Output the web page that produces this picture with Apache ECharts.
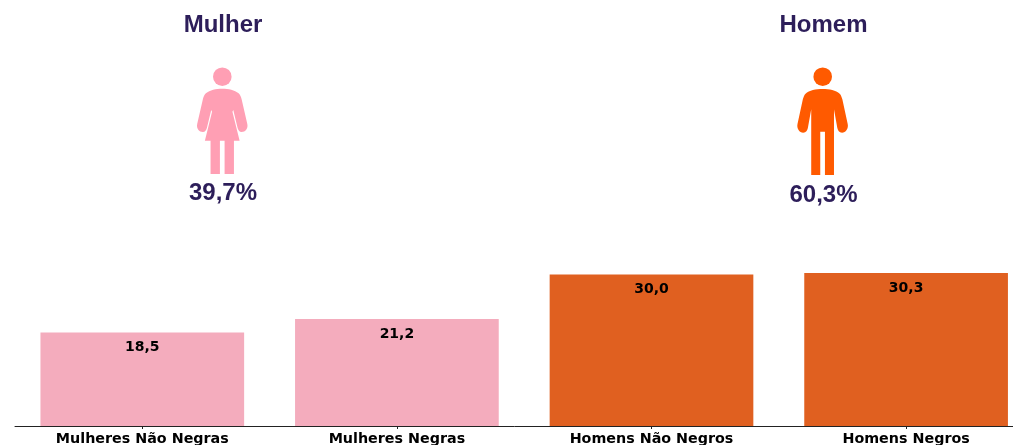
<!DOCTYPE html>
<html>
<head>
<meta charset="utf-8">
<style>
  html, body { margin: 0; padding: 0; background: #fff; overflow: hidden; }
  #chart { width: 1013px; height: 445px; }
</style>
<script src="https://cdn.jsdelivr.net/npm/echarts@6/dist/echarts.min.js"></script>
</head>
<body>
<div id="chart"></div>
<script>
const categories = ['Mulheres Não Negras', 'Mulheres Negras', 'Homens Não Negros', 'Homens Negros'];
const values = [18.5, 21.2, 30.0, 30.3];
const barColors = ['#f4acbd', '#f4acbd', '#e06020', '#e06020'];
const groupNames = ['Mulher', 'Homem'];
const groupShares = ['39,7%', '60,3%'];

const titleColor = '#2d1e5a';
const womanPath = 'M157 266C176 266 194 270 206 280C211 285 213 291 215 298L232 372C235 386 226 396 215 396C208 396 205 391 203 384L190 330L187.5 335L209 422L192 422L192 522L164 522L164 422L150 422L150 522L122 522L122 422L105 422L126.5 335L124 330L111 384C109 391 106 396 99 396C88 396 79 386 82 372L99 298C101 291 103 285 108 280C120 270 138 266 157 266Z';
const manPath = 'M158 267C178 267 198 271 209 281C213 285 215 291 217 298L233 372C236 386 227 398 216 398C207 398 204 392 202 384L192 328L192 525L165 525L165 395L151 395L151 525L124 525L124 328L114 384C112 392 109 398 100 398C89 398 80 386 83 372L99 298C101 291 103 285 107 281C118 271 138 267 158 267Z';

// bounding boxes of the two figures on the page
const icons = [
  { path: womanPath, color: '#ff9fb4', x: 197, y: 88.7, width: 50.5, height: 85.3 },
  { path: manPath, color: '#ff5a00', x: 797.3, y: 89, width: 50.6, height: 86 }
];

function bigText(text, x, y) {
  return {
    type: 'text',
    x: x,
    y: y,
    style: {
      text: text,
      align: 'center',
      verticalAlign: 'middle',
      fontFamily: '"Liberation Sans", Arial, sans-serif',
      fontWeight: 'bold',
      fontSize: 24,
      fill: titleColor
    }
  };
}

const chart = echarts.init(document.getElementById('chart'), null, { renderer: 'canvas' });

chart.setOption({
  animation: false,
  backgroundColor: '#fff',
  grid: { left: 15, top: 22, width: 1018.4, height: 404, outerBoundsMode: 'none' },
  xAxis: {
    type: 'category',
    data: categories,
    axisLine: { lineStyle: { color: '#222', width: 1 } },
    axisTick: { show: true, alignWithLabel: true, length: 3, lineStyle: { color: '#222' } },
    axisLabel: {
      interval: 0,
      margin: 6,
      color: '#000',
      fontFamily: '"DejaVu Sans", sans-serif',
      fontWeight: 'bold',
      fontSize: 14.3
    }
  },
  yAxis: { type: 'value', min: 0, max: 80, show: false },
  series: [
    {
      type: 'bar',
      barWidth: '80%',
      data: values.map((v, i) => ({ value: v, itemStyle: { color: barColors[i] } })),
      label: {
        show: true,
        position: 'insideTop',
        distance: 8,
        color: '#000',
        fontFamily: '"DejaVu Sans", sans-serif',
        fontWeight: 'bold',
        fontSize: 14,
        formatter: (p) => p.value.toFixed(1).replace('.', ',')
      }
    },
    {
      type: 'custom',
      coordinateSystem: 'none',
      silent: true,
      data: [0, 1],
      renderItem: (params) => {
        const ic = icons[params.dataIndex];
        return {
          type: 'path',
          shape: { pathData: ic.path, layout: 'cover', x: ic.x, y: ic.y, width: ic.width, height: ic.height },
          style: { fill: ic.color }
        };
      }
    }
  ],
  graphic: [
    bigText(groupNames[0], 223, 25),
    { type: 'circle', shape: { cx: 222.3, cy: 76.7, r: 9.3 }, style: { fill: '#ff9fb4' } },
    bigText(groupShares[0], 223, 193),
    bigText(groupNames[1], 823.5, 25),
    { type: 'circle', shape: { cx: 822.7, cy: 76.7, r: 9.3 }, style: { fill: '#ff5a00' } },
    bigText(groupShares[1], 823.5, 195.5)
  ]
});
</script>
</body>
</html>
